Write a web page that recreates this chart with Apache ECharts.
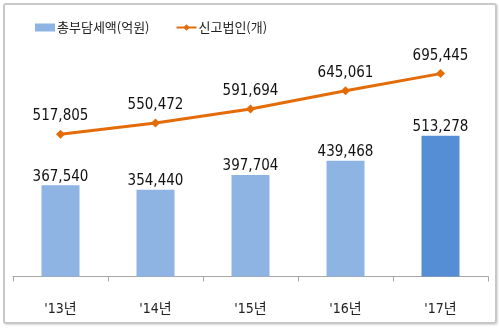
<!DOCTYPE html>
<html>
<head>
<meta charset="utf-8">
<script src="https://cdn.jsdelivr.net/npm/echarts@6/dist/echarts.min.js"></script>
<style>
html,body{margin:0;padding:0;background:#fff;}
#wrap{position:relative;width:499px;height:329px;}
#chart{position:absolute;left:0;top:0;width:499px;height:329px;}
#frame{position:absolute;left:3px;top:3px;width:490px;height:317px;border:2px solid #c8c8c8;border-radius:3px;pointer-events:none;box-shadow:1px 1px 2px rgba(0,0,0,0.15);}
</style>
</head>
<body>
<div id="wrap"><div id="chart"></div><div id="frame"></div></div>
<script>
var categories = ["'13년", "'14년", "'15년", "'16년", "'17년"];
var taxValues = [367540, 354440, 397704, 439468, 513278];
var corpValues = [517805, 550472, 591694, 645061, 695445];
var seriesNames = ['총부담세액(억원)', '신고법인(개)'];

var numFont = "'Liberation Sans Narrow', 'DejaVu Sans Condensed', 'Noto Sans CJK KR', sans-serif";
var krFont = "'Noto Sans CJK KR', sans-serif";
var barColor = '#8DB4E2';
var barHighlight = '#558ED5';
var lineColor = '#E36C09';

var barData = taxValues.map(function (v, i) {
  return i === taxValues.length - 1 ? { value: v, itemStyle: { color: barHighlight } } : v;
});
function fmt(p) { return Number(p.value).toLocaleString('en-US'); }

var chart = echarts.init(document.getElementById('chart'), null, { renderer: 'canvas' });
chart.setOption({
  animation: false,
  backgroundColor: '#fff',
  legend: {
    left: 30, top: 16,
    itemGap: 26,
    itemWidth: 20, itemHeight: 8,
    textStyle: { fontFamily: krFont, fontSize: 13, color: '#222', padding: [0, 0, 0, -3] },
    data: [
      { name: seriesNames[0], icon: 'rect' },
      { name: seriesNames[1] }
    ]
  },
  grid: { left: 13, right: 11, top: 38, bottom: 52.5, containLabel: false },
  xAxis: {
    type: 'category',
    data: categories,
    boundaryGap: true,
    axisLine: { lineStyle: { color: '#a6a6a6', width: 1 } },
    axisTick: { show: true, interval: 0, length: 5, lineStyle: { color: '#a6a6a6' } },
    axisLabel: { fontFamily: numFont, fontSize: 14, color: '#222', margin: 26 }
  },
  yAxis: [
    { type: 'value', min: 100000, max: 800000, show: false, splitLine: { show: false } },
    { type: 'value', min: 100000, max: 800000, show: false, splitLine: { show: false } }
  ],
  series: [
    {
      name: seriesNames[0],
      type: 'bar',
      yAxisIndex: 0,
      data: barData,
      barWidth: '40%',
      itemStyle: { color: barColor },
      label: {
        show: true, position: 'top', distance: 1,
        fontFamily: numFont, fontSize: 15, color: '#111',
        formatter: fmt
      }
    },
    {
      name: seriesNames[1],
      type: 'line',
      yAxisIndex: 1,
      data: corpValues,
      symbol: 'diamond',
      symbolSize: 9,
      lineStyle: { color: lineColor, width: 3 },
      itemStyle: { color: lineColor },
      label: {
        show: true, position: 'top', distance: 6,
        fontFamily: numFont, fontSize: 15, color: '#111',
        formatter: fmt
      }
    }
  ]
});
</script>
</body>
</html>
